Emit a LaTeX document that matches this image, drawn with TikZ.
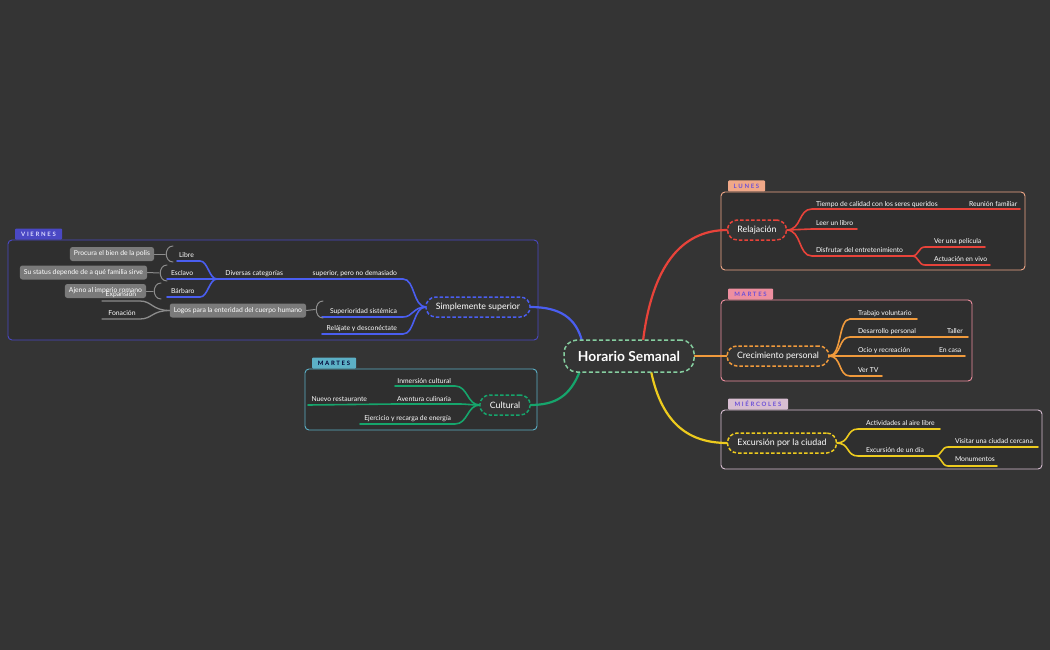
\documentclass[tikz,border=0pt]{standalone}
\usepackage{fontspec}
\setmainfont{Lato}
\newfontfamily\tabfont[LetterSpace=28]{Lato}
\usetikzlibrary{calc}
\definecolor{bg}{HTML}{343434}
\definecolor{inbg}{HTML}{2F2F2F}
\definecolor{cred}{HTML}{E8433A}
\definecolor{corange}{HTML}{F09A3C}
\definecolor{cyellow}{HTML}{EDCB1E}
\definecolor{cblue}{HTML}{4A5EF0}
\definecolor{cgreen}{HTML}{16A56C}
\definecolor{ccentral}{HTML}{86CFA0}
\definecolor{cgray}{HTML}{8C8C8C}
\definecolor{gboxc}{HTML}{7A7A7A}
\definecolor{blunes}{HTML}{F0A888}
\definecolor{bmartes}{HTML}{EE8FA0}
\definecolor{bmier}{HTML}{D8BED2}
\definecolor{bvier}{HTML}{4A48C4}
\definecolor{bmartesl}{HTML}{5CB0C6}
\definecolor{tabtxt}{HTML}{6A50D8}
\pgfdeclarelayer{back}
\pgfdeclarelayer{lines}
\pgfsetlayers{back,lines,main}
\begin{document}
\begin{tikzpicture}[x=1pt,y=-1pt,
  every node/.style={inner sep=0pt, outer sep=0pt},
  lnk/.style={line width=1.6pt, line cap=round},
  mainlnk/.style={line width=2.2pt, line cap=round},
  brk/.style={draw=cgray, line width=1pt, line cap=round},
  topic/.style={draw, dash pattern=on 3.5pt off 2pt, line width=1.5pt, rounded corners=10pt,
     fill=bg, text=white, font=\fontsize{8.8}{10}\selectfont, minimum height=20pt, inner xsep=10pt},
  central/.style={draw=ccentral, dash pattern=on 4pt off 2.5pt, line width=1.5pt, rounded corners=13pt,
     fill=bg, text=white, font=\fontsize{13.8}{15}\selectfont\bfseries, minimum height=32pt, minimum width=130pt},
  sub/.style={text=white, font=\fontsize{6.8}{7.5}\selectfont, yshift=-1.2pt},
  gbox/.style={fill=gboxc, rounded corners=2.5pt, text=white, font=\fontsize{6.8}{7.5}\selectfont,
     minimum height=14pt, inner xsep=4pt},
  bnd/.style={rounded corners=4pt, line width=0.9pt, fill=inbg},
  tabbox/.style={font=\tabfont\fontsize{6}{6.5}\selectfont\bfseries, minimum height=11pt,
     rounded corners=1pt, anchor=south west}]
\begin{pgfonlayer}{back}
\fill[bg] (0,0) rectangle (1050,650);
\draw[bnd, draw=bvier] (8,240) rectangle (538,340);
\draw[bnd, draw=bmartesl] (305,369) rectangle (537,430);
\draw[bnd, draw=blunes] (721,192) rectangle (1025,270);
\draw[bnd, draw=bmartes] (721,300) rectangle (972,381);
\draw[bnd, draw=bmier] (721,410) rectangle (1042,469);
\end{pgfonlayer}
\useasboundingbox (0,0) rectangle (1050,650);

% tabs
\node[tabbox, fill=bvier, text=white!85!blue, minimum width=47pt] (tv) at (15,239.5) {VIERNES};
\node[tabbox, fill=bmartesl, text=black!80!blue, minimum width=44pt] (tml) at (312,368.5) {MARTES};
\node[tabbox, fill=blunes, text=tabtxt, minimum width=37pt] (tl) at (728,191.5) {LUNES};
\node[tabbox, fill=bmartes, text=tabtxt, minimum width=45pt] (tmr) at (728,299.5) {MARTES};
\node[tabbox, fill=bmier, text=tabtxt, minimum width=60pt] (tmi) at (728,409.5) {MIÉRCOLES};

% central and topics
\node[central] (hs) at (629,356) {Horario Semanal};
\node[topic, draw=cred] (rel) at (757,230) {Relajación};
\node[topic, draw=corange] (cre) at (778,356) {Crecimiento personal};
\node[topic, draw=cyellow] (exc) at (782,443) {Excursión por la ciudad};
\node[topic, draw=cblue] (ss) at (478,307) {Simplemente superior};
\node[topic, draw=cgreen] (cul) at (505,405) {Cultural};

\coordinate (hb) at (582,341);
\coordinate (hr) at (643,341);
\coordinate (hy) at (651,371);
\coordinate (hg) at (580,371);

% ---------- sub texts ----------
% Relajacion
\node[sub, anchor=west] (r1) at (816,203) {Tiempo de calidad con los seres queridos};
\node[sub, anchor=west] (r11) at (969,203) {Reunión familiar};
\node[sub, anchor=west] (r2) at (816,222) {Leer un libro};
\node[sub, anchor=west] (r3) at (816,249) {Disfrutar del entretenimiento};
\node[sub, anchor=west] (r31) at (934,240) {Ver una película};
\node[sub, anchor=west] (r32) at (934,258) {Actuación en vivo};
% Crecimiento
\node[sub, anchor=west] (c1) at (858,312) {Trabajo voluntario};
\node[sub, anchor=west] (c2) at (858,330) {Desarrollo personal};
\node[sub, anchor=west] (c21) at (947,330) {Taller};
\node[sub, anchor=west] (c3) at (858,349) {Ocio y recreación};
\node[sub, anchor=west] (c31) at (939,349) {En casa};
\node[sub, anchor=west] (c4) at (858,369) {Ver TV};
% Excursion
\node[sub, anchor=west] (e1) at (866,422) {Actividades al aire libre};
\node[sub, anchor=west] (e2) at (866,449) {Excursión de un día};
\node[sub, anchor=west] (e21) at (955,440) {Visitar una ciudad cercana};
\node[sub, anchor=west] (e22) at (955,458) {Monumentos};
% Simplemente superior
\node[sub, anchor=east] (s1) at (397,272) {superior, pero no demasiado};
\node[sub, anchor=east] (s11) at (283,272) {Diversas categorías};
\node[sub, anchor=west] (s111) at (179,254) {Libre};
\node[sub, anchor=west] (s112) at (171,272) {Esclavo};
\node[sub, anchor=west] (s113) at (171,290) {Bárbaro};
\node[sub, anchor=east] (s2) at (397,310) {Superioridad sistémica};
\node[sub, anchor=east] (s3) at (397,327) {Relájate y desconéctate};
% gray boxes
\node[gbox, anchor=east] (g1) at (154,254) {Procura el bien de la polis};
\node[gbox, anchor=east] (g2) at (147,272.5) {Su status depende de a qué familia sirve};
\node[gbox, anchor=east] (g3) at (146,291) {Ajeno al imperio romano};
\node[gbox, anchor=east] (g4) at (306,310.5) {Logos para la enteridad del cuerpo humano};
\node[sub] (g41) at (121,293) {Expansión};
\node[sub] (g42) at (122,312) {Fonación};
% Cultural
\node[sub, anchor=east] (k1) at (451,380) {Inmersión cultural};
\node[sub, anchor=east] (k2) at (451,398) {Aventura culinaria};
\node[sub, anchor=east] (k21) at (367,398) {Nuevo restaurante};
\node[sub, anchor=east] (k3) at (451,417) {Ejercicio y recarga de energía};

\begin{pgfonlayer}{lines}
% main branches
\draw[mainlnk, cblue] (hb) .. controls (576,318) and (560,307) .. (ss.east);
\draw[mainlnk, cred] (hr) .. controls (652,268) and (680,230) .. (rel.west);
\draw[mainlnk, corange] (hs.east) -- (cre.west);
\draw[mainlnk, cyellow] (hy) .. controls (662,425) and (690,443) .. (exc.west);
\draw[mainlnk, cgreen] (hg) .. controls (570,396) and (556,405) .. (cul.east);

% Relajacion
\draw[lnk, cred] (rel.east) .. controls (802,230) and (798,209) .. (812,209) -- (1020,209);
\draw[lnk, cred] (rel.east) .. controls (800,230) and (800,229) .. (812,229) -- (857,229);
\draw[lnk, cred] (rel.east) .. controls (802,230) and (798,256) .. (812,256) -- (912,256);
\coordinate (rj) at (912,256);
\draw[lnk, cred] (rj) .. controls (919,256) and (918,247) .. (925,247) -- (985,247);
\draw[lnk, cred] (rj) .. controls (919,256) and (918,265) .. (925,265) -- (990,265);

% Crecimiento
\draw[lnk, corange] (cre.east) .. controls (842,356) and (838,319) .. (850,319) -- (917,319);
\draw[lnk, corange] (cre.east) .. controls (842,356) and (838,337) .. (850,337) -- (968,337);
\draw[lnk, corange] (cre.east) .. controls (842,356) and (840,356) .. (850,356) -- (965,356);
\draw[lnk, corange] (cre.east) .. controls (842,356) and (838,376) .. (850,376) -- (882,376);

% Excursion
\draw[lnk, cyellow] (exc.east) .. controls (850,443) and (846,429) .. (858,429) -- (940,429);
\draw[lnk, cyellow] (exc.east) .. controls (850,443) and (846,456) .. (858,456) -- (935,456);
\coordinate (ej) at (935,456);
\draw[lnk, cyellow] (ej) .. controls (942,456) and (941,447) .. (948,447) -- (1038,447);
\draw[lnk, cyellow] (ej) .. controls (942,456) and (941,466) .. (948,466) -- (997,466);

% Simplemente superior
\draw[lnk, cblue] (ss.west) .. controls (413,307) and (415,279) .. (403,279) -- (217,279);
\draw[lnk, cblue] (ss.west) .. controls (413,307) and (413,317) .. (403,317) -- (322,317);
\draw[lnk, cblue] (ss.west) .. controls (413,307) and (415,334) .. (403,334) -- (322,334);
\coordinate (dj) at (217,279);
\draw[lnk, cblue] (dj) .. controls (209,279) and (208,261) .. (200,261) -- (177,261);
\draw[lnk, cblue] (dj) -- (167,279);
\draw[lnk, cblue] (dj) .. controls (209,279) and (208,297) .. (200,297) -- (167,297);

% brackets
\draw[brk] (173,246) .. controls (164,246) and (164,262) .. (173,262);
\draw[brk] (165.2,254) -- (g1.east);
\draw[brk] (167,265) .. controls (158,265) and (158,281) .. (167,281);
\draw[brk] (159.2,273) -- (g2.east);
\draw[brk] (161,283) .. controls (152,283) and (152,299) .. (161,299);
\draw[brk] (153.2,291) -- (g3.east);
\draw[brk] (323,301) .. controls (314,301) and (314,318) .. (323,318);
\draw[brk] (315.2,309.5) -- (g4.east);

% Logos children
\draw[lnk, cgray, line width=1.3pt] (g4.west) .. controls (152,310.5) and (152,301) .. (140,301) -- (102,301);
\draw[lnk, cgray, line width=1.3pt] (g4.west) .. controls (152,310.5) and (152,319) .. (140,319) -- (102,319);

% Cultural
\draw[lnk, cgreen] (cul.west) .. controls (467,405) and (468,386) .. (455,386) -- (395,386);
\draw[lnk, cgreen] (cul.west) .. controls (470,405) and (468,404) .. (458,404) -- (395,404) -- (308,405);
\draw[lnk, cgreen] (cul.west) .. controls (467,405) and (468,424) .. (455,424) -- (360,424);
\end{pgfonlayer}
\end{tikzpicture}
\end{document}
